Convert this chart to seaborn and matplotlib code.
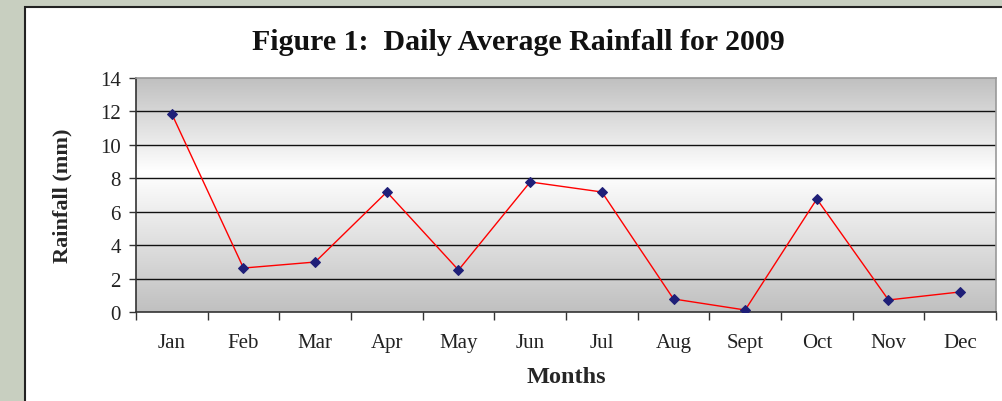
import numpy as np
import pandas as pd
import matplotlib
matplotlib.use("Agg")
import matplotlib.pyplot as plt
import seaborn as sns
from matplotlib.patches import Rectangle
from matplotlib.colors import LinearSegmentedColormap

months = ["Jan", "Feb", "Mar", "Apr", "May", "Jun", "Jul", "Aug", "Sept", "Oct", "Nov", "Dec"]
rainfall = [11.85, 2.63, 2.99, 7.18, 2.51, 7.78, 7.18, 0.78, 0.12, 6.76, 0.72, 1.2]
yticks = [0, 2, 4, 6, 8, 10, 12, 14]

sns.set_style("white")
plt.rcParams["font.family"] = ["Liberation Serif", "DejaVu Serif"]

df = pd.DataFrame({"Month": months, "Rainfall": rainfall})

fig = plt.figure(figsize=(10.03, 4.02), dpi=100)
fig.patch.set_facecolor("#c8cfc0")
# white panel
panel = Rectangle((25 / 1003, -0.1), 1.1, 1 - 8 / 402 + 0.1, transform=fig.transFigure,
                  facecolor="white", edgecolor="#222222", linewidth=1.5, zorder=-5)
fig.patches.append(panel)

ax = fig.add_axes([136 / 1003, 1 - 313 / 402, (996 - 136) / 1003, (313 - 79) / 402])
ax.set_zorder(2)

# gradient background
g = np.linspace(0, 1, 256)
cmap = LinearSegmentedColormap.from_list("g", [(0, "#c0c0c0"), (0.6, "#ffffff"), (1.0, "#c0c0c0")])
ax.imshow(g[::-1, None] * np.ones((1, 2)), cmap=cmap, aspect="auto",
          extent=[-0.5, 11.5, 0, 14], zorder=0, vmin=0, vmax=1)

sns.lineplot(data=df, x="Month", y="Rainfall", ax=ax, color="#ff0000", linewidth=1.0,
             marker="D", markersize=5.5, markerfacecolor="#1f1f78", markeredgecolor="#1f1f78",
             sort=False, zorder=3)

ax.set_xlim(-0.5, 11.5)
ax.set_ylim(0, 14)
ax.set_yticks(yticks)
ax.set_yticklabels([str(v) for v in yticks], fontsize=15, color="#222222")
for v in yticks[1:-1]:
    ax.axhline(v, color="#111111", linewidth=1.0, zorder=1)

ax.set_xticks(np.arange(-0.5, 12, 1.0))
ax.set_xticklabels([])
ax.set_xticks(np.arange(0, 12), minor=True)
ax.set_xticklabels(months, minor=True, fontsize=15, color="#222222")
ax.tick_params(axis="x", which="major", direction="out", length=6, width=1, color="#333333", bottom=True)
ax.tick_params(axis="x", which="minor", length=0, pad=15)
ax.tick_params(axis="y", direction="out", length=5, width=1, color="#333333", left=True, pad=6)

for s in ["top", "right"]:
    ax.spines[s].set_color("#999999")
    ax.spines[s].set_linewidth(1.2)
for s in ["left", "bottom"]:
    ax.spines[s].set_color("#333333")
    ax.spines[s].set_linewidth(1.2)

ax.set_xlabel("Months", fontsize=17.5, fontweight="bold")
ax.set_ylabel("Rainfall (mm)", fontsize=16, fontweight="bold")
ax.xaxis.set_label_coords((566 - 136) / (996 - 136), -(378 - 313) / (313 - 79))
ax.yaxis.set_label_coords(-(136 - 62) / (996 - 136), 0.5)
ax.xaxis.label.set_va("center")
ax.yaxis.label.set_va("center")

fig.text(518 / 1003, 1 - 42 / 402, "Figure 1:  Daily Average Rainfall for 2009", ha="center", va="center",
         fontsize=21.5, fontweight="bold", color="#111111")

fig.savefig("out.png", dpi=100, facecolor=fig.get_facecolor())
